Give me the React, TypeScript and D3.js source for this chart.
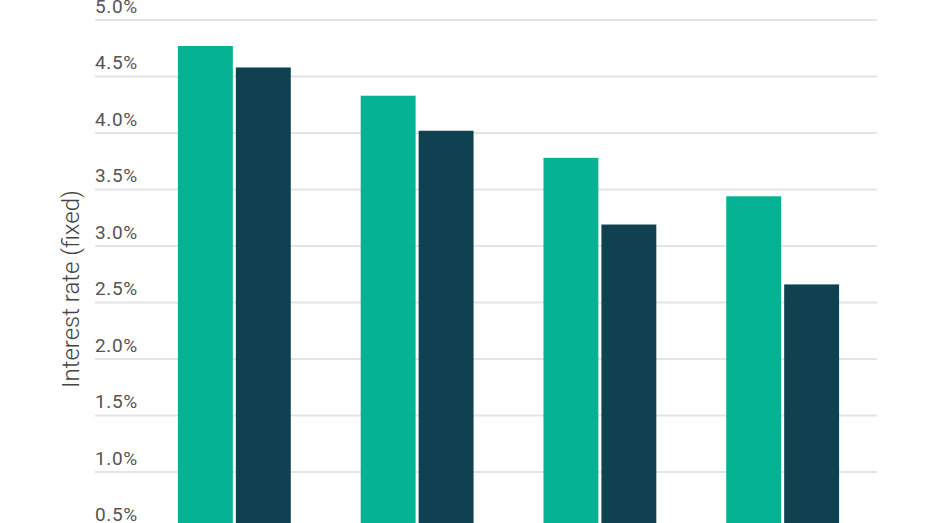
import React from 'react';
import * as d3 from 'd3';

const categories = ['A', 'B', 'C', 'D'];
const seriesNames = ['first', 'second'];
const firstValues = [4.77, 4.33, 3.78, 3.44];
const secondValues = [4.58, 4.02, 3.19, 2.66];
const yTicks = [0.5, 1.0, 1.5, 2.0, 2.5, 3.0, 3.5, 4.0, 4.5, 5.0];
const colors = ['#05b294', '#0f4150'];

const W = 931;
const H = 523;

export default function App() {
  const y = d3.scaleLinear().domain([0.5, 5.0]).range([528.5, 20]);
  const x0 = d3
    .scaleBand<string>()
    .domain(categories)
    .range([143, 874])
    .paddingInner(0.3825)
    .paddingOuter(0.191);
  const x1 = d3
    .scaleBand<string>()
    .domain(seriesNames)
    .range([0, x0.bandwidth()])
    .paddingInner(0.052);

  const series = [firstValues, secondValues];

  return (
    <svg
      width={W}
      height={H}
      style={{position: 'fixed', left: 0, top: 0, background: '#fff'}}
    >
      <g>
        {yTicks.map((t) => (
          <g key={t}>
            <line
              x1={95}
              x2={877}
              y1={y(t)}
              y2={y(t)}
              stroke="#e4e4e4"
              strokeWidth={2}
            />
            <text
              x={95}
              y={y(t) - 7.5}
              fontFamily="Roboto"
              fontSize={19}
              fill="#555"
              letterSpacing={0.6}
            >
              {t.toFixed(1)}%
            </text>
          </g>
        ))}
      </g>
      <g>
        {categories.map((c, i) => (
          <g key={c} transform={`translate(${x0(c)},0)`}>
            {seriesNames.map((s, j) => (
              <rect
                key={s}
                x={x1(s)}
                y={y(series[j][i])}
                width={x1.bandwidth()}
                height={H + 20 - y(series[j][i])}
                fill={colors[j]}
              />
            ))}
          </g>
        ))}
      </g>
      <text
        transform={`translate(79,289) rotate(-90)`}
        textAnchor="middle"
        fontFamily="Roboto"
        fontWeight={300}
        fontSize={24}
        fill="#444"
      >
        Interest rate (fixed)
      </text>
    </svg>
  );
}
